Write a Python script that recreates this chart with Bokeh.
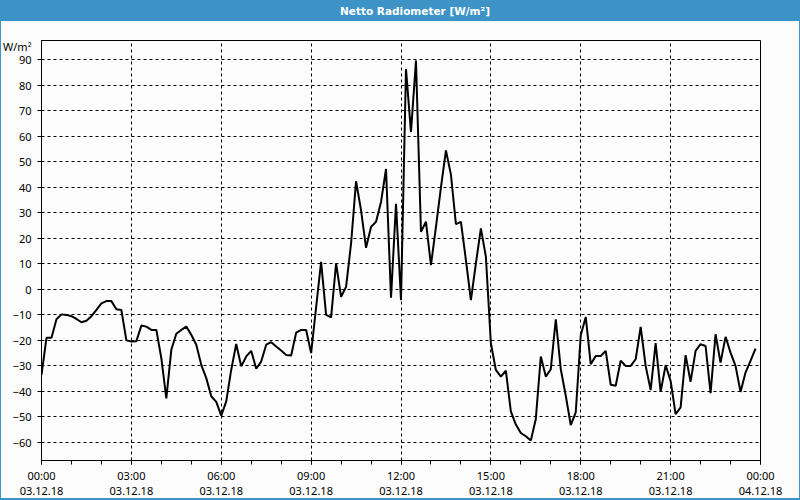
import pandas as pd
from bokeh.plotting import figure
from bokeh.layouts import column
from bokeh.models import (FixedTicker, DatetimeTickFormatter, Range1d, ColumnDataSource, Label)
from bokeh.embed import file_html
from bokeh.resources import INLINE

# ---------------- data ----------------
title_text = "Netto Radiometer [W/m²]"
unit_label = "W/m²"
start_time = "2018-12-03 00:00"
end_time = "2018-12-04 00:00"
sample_interval = "10min"

radiation = [
    -33.5, -19, -19, -11.7, -9.8, -10, -10.5, -11.6, -12.9, -12.3,
    -10.5, -8, -5.5, -4.6, -4.6, -7.8, -8.1, -20, -20.4, -20.3,
    -14.2, -14.6, -15.9, -15.9, -27, -42.7, -23.7, -17.4, -15.9, -14.6,
    -17.8, -21.7, -29.6, -34.8, -41.9, -44.1, -49.5, -43.9, -31.5, -21.4,
    -30.2, -26.3, -24.1, -31.1, -28.3, -21.7, -20.7, -22.4, -24, -25.7,
    -25.9, -17, -15.9, -15.9, -25, -7, 10.8, -10, -11, 10.2,
    -2.9, 1, 18, 42.4, 31, 16.3, 24.5, 26.5, 34.3, 47.2,
    -3.3, 33.6, -4.2, 86.4, 61.7, 89.7, 22.6, 26.5, 9.5, 24.5,
    40, 54.5, 45, 25.6, 26.5, 11.5, -4.2, 10.2, 23.9, 12.8,
    -21.1, -31.6, -34.2, -31.9, -47.8, -53, -56.3, -57.6, -59.3, -50.8,
    -26.3, -34.2, -31.3, -11.7, -31.3, -41.7, -53.2, -48.2, -18, -10.8,
    -29.3, -26.1, -26.1, -24.1, -37.4, -37.8, -28, -30, -30, -27.4,
    -14.7, -30, -39.5, -21.1, -40.2, -29.7, -35.9, -48.9, -46.3, -25.8,
    -36.2, -24.1, -21.5, -22.2, -40.7, -17.6, -28.7, -18.6, -24.8, -30,
    -40.2, -32.6, -28, -23.2,
]
y_ticks = [-60, -50, -40, -30, -20, -10, 0, 10, 20, 30, 40, 50, 60, 70, 80, 90]
y_min, y_max = -67.1, 97.6
unit_label_pos = 95.2   # y position of the unit label, at the top of the value axis

# ---------------- styling ----------------
BLUE = "#3d93c6"
BG = "#fbfcfb"
FONT = "Noto Sans"
BAR_H = 21

# --- title bar (its own small figure; its frame is aligned with the chart frame, 40..760 px) ---
bar = figure(width=800, height=BAR_H, x_range=Range1d(40, 760), y_range=Range1d(0, BAR_H),
             output_backend="svg", toolbar_location=None,
             x_axis_location=None, y_axis_location=None,
             min_border=0, min_border_left=0, min_border_right=0,
             min_border_top=0, min_border_bottom=0,
             background_fill_color=None, border_fill_color=None, outline_line_color=None)
bar.styles = {"background": BLUE}
bar.xgrid.visible = False
bar.ygrid.visible = False
bar.add_layout(Label(x=414, y=BAR_H / 2, text=title_text, text_align="center",
                     text_baseline="middle", text_color="white", text_font="DejaVu Sans",
                     text_font_style="bold", text_font_size="10.5px"))

# --- main chart ---
times = pd.date_range(start_time, periods=len(radiation), freq=sample_interval)
src = ColumnDataSource(dict(t=times, v=radiation))

major_x = [int(t.value // 10**6) for t in pd.date_range(start_time, end_time, freq="3h")]
minor_x = [int(t.value // 10**6) for t in pd.date_range(start_time, end_time, freq="1h")]

chrome = (f"linear-gradient({BLUE},{BLUE}) left top / 1px 100% no-repeat, "
          f"linear-gradient({BLUE},{BLUE}) right top / 1px 100% no-repeat, "
          f"linear-gradient({BLUE},{BLUE}) left bottom / 100% 2px no-repeat, {BG}")

p = figure(width=800, height=500 - BAR_H, x_axis_type="datetime",
           x_range=Range1d(pd.Timestamp(start_time), pd.Timestamp(end_time)),
           y_range=Range1d(y_min, y_max),
           output_backend="svg", toolbar_location=None,
           min_border_left=40, min_border_right=40, min_border_top=40 - BAR_H,
           min_border_bottom=39,
           background_fill_color=BG, border_fill_color=None)
p.styles = {"background": chrome}

p.outline_line_color = "black"
p.outline_line_width = 1

xt = FixedTicker(ticks=major_x, minor_ticks=minor_x)
# y axis: labels at the value ticks plus the unit label; tick marks only at the value ticks
y_axis_ticker = FixedTicker(ticks=y_ticks + [unit_label_pos], minor_ticks=y_ticks)
y_grid_ticker = FixedTicker(ticks=y_ticks)
p.xaxis.ticker = xt
p.yaxis.ticker = y_axis_ticker
p.xgrid.ticker = xt
p.ygrid.ticker = y_grid_ticker
p.yaxis.major_label_overrides = {unit_label_pos: unit_label}

fmt = "%H:%M\n%d.%m.%y"
p.xaxis.formatter = DatetimeTickFormatter(hours=fmt, hourmin=fmt, days=fmt, minutes=fmt,
                                          minsec=fmt, seconds=fmt, months=fmt, years=fmt)

for ax in (p.xaxis[0], p.yaxis[0]):
    ax.axis_line_color = "black"
    ax.major_tick_line_color = "black"
    ax.minor_tick_line_color = "black"
    ax.major_label_text_color = "black"
    ax.major_label_text_font = FONT
    ax.major_label_text_font_size = "11px"

p.xaxis.major_tick_in = 0
p.xaxis.major_tick_out = 4
p.xaxis.minor_tick_in = 0
p.xaxis.minor_tick_out = 4
p.xaxis.major_label_standoff = 3
p.xaxis.major_label_text_line_height = 1.0

p.yaxis.major_tick_in = 0
p.yaxis.major_tick_out = 0
p.yaxis.minor_tick_in = 0
p.yaxis.minor_tick_out = 4
p.yaxis.major_label_standoff = 6

for g in (p.xgrid[0], p.ygrid[0]):
    g.grid_line_color = "black"
    g.grid_line_dash = "3 3"
    g.grid_line_width = 1

p.line(x="t", y="v", source=src, line_color="black", line_width=2)

layout = column(bar, p, spacing=0)
open("out.html", "w").write(file_html(layout, INLINE))
